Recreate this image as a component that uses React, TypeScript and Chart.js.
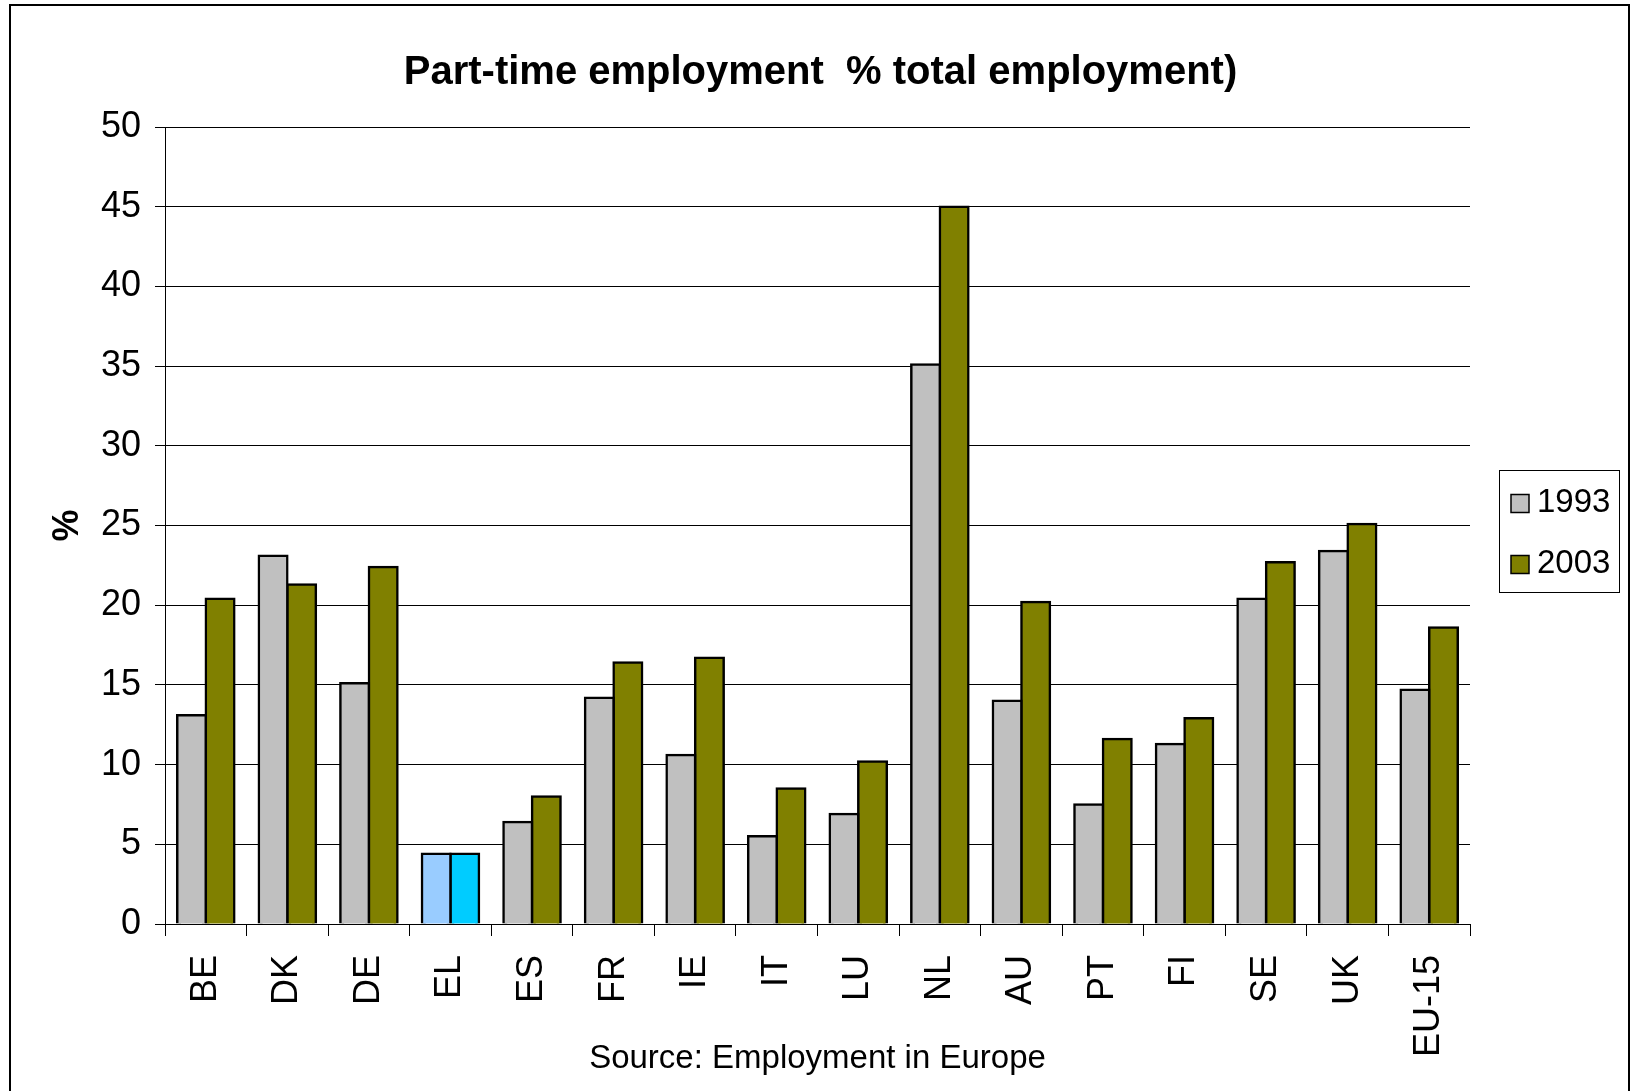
import React, { useEffect, useRef } from 'react';
import { Chart, registerables } from 'chart.js';

Chart.register(...registerables);

const FONT = "'Liberation Sans', Arial, Helvetica, sans-serif";

const categories = ['BE', 'DK', 'DE', 'EL', 'ES', 'FR', 'IE', 'IT', 'LU', 'NL', 'AU', 'PT', 'FI', 'SE', 'UK', 'EU-15'];
const seriesLabels = ['1993', '2003'];
const values1993 = [13.1, 23.1, 15.1, 4.4, 6.4, 14.2, 10.6, 5.5, 6.9, 35.1, 14.0, 7.5, 11.3, 20.4, 23.4, 14.7];
const values2003 = [20.4, 21.3, 22.4, 4.4, 8.0, 16.4, 16.7, 8.5, 10.2, 45.0, 20.2, 11.6, 12.9, 22.7, 25.1, 18.6];
const seriesColors = ['#C0C0C0', '#808000'];
const highlightColors = ['#99CCFF', '#00CCFF'];
const highlightCategory = 'EL';
const yMin = 0;
const yMax = 50;
const yStep = 5;
const titleText = 'Part-time employment  % total employment)';
const yTitle = '%';
const sourceText = 'Source: Employment in Europe';

const colorsFor = (seriesIndex: number) =>
  categories.map((c) => (c === highlightCategory ? highlightColors[seriesIndex] : seriesColors[seriesIndex]));

const framePlugin = {
  id: 'frame',
  beforeDraw(chart: any) {
    const { ctx } = chart;
    ctx.save();
    ctx.strokeStyle = '#000';
    ctx.lineWidth = 2;
    ctx.beginPath();
    ctx.moveTo(10, 1091);
    ctx.lineTo(10, 5);
    ctx.lineTo(1629, 5);
    ctx.lineTo(1629, 1091);
    ctx.stroke();
    ctx.restore();
  },
};

const boxedLegendPlugin = {
  id: 'boxedLegend',
  afterDraw(chart: any) {
    const { ctx } = chart;
    ctx.save();
    ctx.strokeStyle = '#000';
    ctx.lineWidth = 1;
    ctx.strokeRect(1499.5, 470.5, 120, 122);
    chart.data.datasets.forEach((ds: any, i: number) => {
      const cy = 503.5 + i * 61;
      ctx.fillStyle = seriesColors[i];
      ctx.fillRect(1511, cy - 9, 18, 18);
      ctx.lineWidth = 1.5;
      ctx.strokeStyle = '#000';
      ctx.strokeRect(1511, cy - 9, 18, 18);
      ctx.fillStyle = '#000';
      ctx.font = `33px ${FONT}`;
      ctx.textAlign = 'left';
      ctx.textBaseline = 'middle';
      ctx.fillText(ds.label, 1537, cy - 1);
    });
    ctx.restore();
  },
};

export default function App() {
  const canvasRef = useRef<HTMLCanvasElement | null>(null);

  useEffect(() => {
    if (!canvasRef.current) return;
    Chart.defaults.font.family = FONT;
    Chart.defaults.color = '#000';
    const chart = new Chart(canvasRef.current, {
      type: 'bar',
      data: {
        labels: categories,
        datasets: [
          {
            label: seriesLabels[0],
            data: values1993,
            backgroundColor: colorsFor(0),
            borderColor: '#000',
            borderWidth: 2.5,
            inflateAmount: 1.25,
            yAxisID: 'y',
          },
          {
            label: seriesLabels[1],
            data: values2003,
            backgroundColor: colorsFor(1),
            borderColor: '#000',
            borderWidth: 2.5,
            inflateAmount: 1.25,
            yAxisID: 'y',
          },
        ],
      },
      options: {
        responsive: false,
        animation: false,
        devicePixelRatio: 1,
        layout: { padding: { left: 10, right: 0, top: 0, bottom: 0 } },
        datasets: { bar: { categoryPercentage: 0.7, barPercentage: 1.0 } },
        plugins: {
          legend: { display: false },
          tooltip: { enabled: false },
          title: {
            display: true,
            text: titleText,
            color: '#000',
            font: { size: 40, weight: 'bold', family: FONT },
            padding: { top: 49, bottom: 30 },
          },
        },
        scales: {
          x: {
            grid: {
              display: true,
              drawOnChartArea: false,
              drawTicks: true,
              tickLength: 12,
              color: '#000',
              lineWidth: 1,
              offset: true,
            },
            border: { display: true, color: '#000', width: 1 },
            ticks: {
              autoSkip: false,
              maxRotation: 90,
              minRotation: 90,
              padding: 19,
              color: '#000',
              font: { size: 36, family: FONT },
            },
            title: {
              display: true,
              text: sourceText,
              color: '#000',
              font: { size: 33, family: FONT },
              padding: { top: 0, bottom: 12 },
            },
            afterFit(scale: any) {
              scale.height = 167;
            },
          },
          y: {
            min: yMin,
            max: yMax,
            grid: {
              color: '#000',
              lineWidth: 1,
              tickLength: 10,
              drawTicks: true,
            },
            border: { display: true, color: '#000', width: 1 },
            ticks: {
              stepSize: yStep,
              padding: 14,
              color: '#000',
              font: { size: 36, family: FONT },
            },
            title: {
              display: true,
              text: yTitle,
              color: '#000',
              font: { size: 36, weight: 'bold', family: FONT },
              padding: { top: 36, bottom: 0 },
            },
            afterFit(scale: any) {
              scale.width = 155;
            },
          },
          legendSpace: {
            type: 'linear',
            position: 'right',
            display: true,
            min: 0,
            max: 1,
            grid: { display: false, drawTicks: false },
            border: { display: false },
            ticks: { display: false },
            afterFit(scale: any) {
              scale.width = 161;
            },
          },
        },
      },
      plugins: [framePlugin, boxedLegendPlugin],
    } as any);
    return () => chart.destroy();
  }, []);

  return (
    <div style={{ position: 'fixed', left: 0, top: 0, width: 1631, height: 1091, background: '#fff' }}>
      <canvas ref={canvasRef} width={1631} height={1091} style={{ display: 'block' }} />
    </div>
  );
}
